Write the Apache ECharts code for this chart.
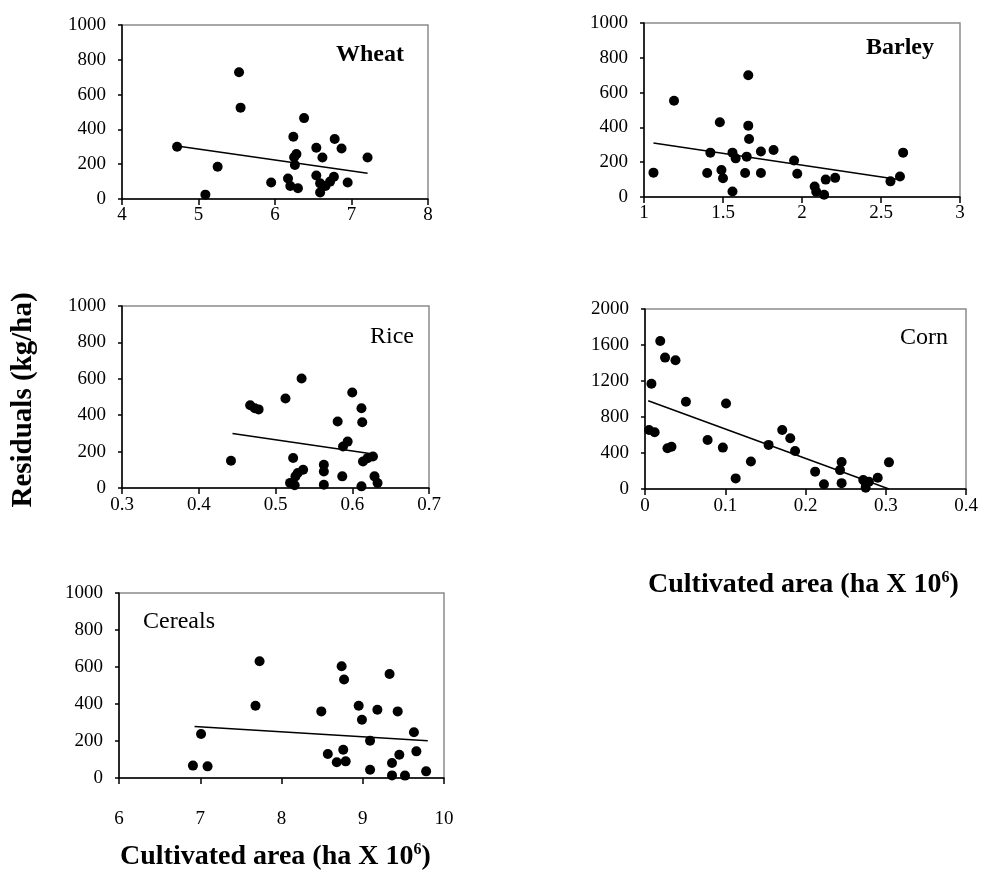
<!DOCTYPE html>
<html>
<head>
<meta charset="utf-8">
<script src="https://cdn.jsdelivr.net/npm/echarts@6/dist/echarts.min.js"></script>
<style>
  html, body { margin: 0; padding: 0; background: #fff; }
  #chart { width: 984px; height: 877px; }
</style>
</head>
<body>
<div id="chart"></div>
<script>
// Residuals (kg/ha) against cultivated area (ha x 10^6), one panel per crop.
const wheatPoints = [
  [4.72, 300], [5.09, 25], [5.25, 185], [5.53, 728], [5.55, 525], [5.95, 95],
  [6.17, 118], [6.20, 75], [6.24, 358], [6.28, 258], [6.30, 62], [6.26, 195],
  [6.25, 240], [6.38, 465], [6.54, 295], [6.62, 238], [6.54, 135], [6.59, 90],
  [6.59, 38], [6.72, 100], [6.77, 128], [6.78, 345], [6.87, 290], [6.95, 95],
  [7.21, 238], [6.66, 75]
];
const wheatTrend = [[4.72, 305], [7.21, 148]];

const barleyPoints = [
  [1.06, 140], [1.19, 553], [1.40, 138], [1.42, 255], [1.48, 430], [1.49, 155],
  [1.50, 108], [1.56, 32], [1.56, 255], [1.58, 222], [1.64, 138], [1.65, 232],
  [1.66, 700], [1.66, 410], [1.665, 333], [1.74, 138], [1.74, 262], [1.82, 270],
  [1.95, 210], [1.97, 134], [2.08, 60], [2.09, 30], [2.14, 13], [2.15, 100],
  [2.21, 110], [2.56, 90], [2.62, 118], [2.64, 255]
];
const barleyTrend = [[1.06, 310], [2.60, 102]];

const ricePoints = [
  [0.442, 150], [0.467, 455], [0.473, 438], [0.478, 432], [0.513, 492], [0.519, 28],
  [0.523, 165], [0.525, 15], [0.526, 64], [0.529, 82], [0.534, 602], [0.536, 100],
  [0.563, 128], [0.563, 91], [0.563, 18], [0.581, 365], [0.587, 64], [0.588, 228],
  [0.594, 255], [0.600, 525], [0.612, 438], [0.613, 361], [0.612, 9], [0.614, 146],
  [0.620, 164], [0.627, 173], [0.629, 64], [0.633, 27]
];
const riceTrend = [[0.444, 300], [0.625, 188]];

const cornPoints = [
  [0.005, 655], [0.008, 1170], [0.012, 630], [0.019, 1645], [0.025, 1460], [0.028, 452],
  [0.033, 470], [0.038, 1430], [0.051, 970], [0.078, 544], [0.097, 460], [0.101, 950],
  [0.113, 118], [0.132, 305], [0.154, 490], [0.171, 655], [0.181, 563], [0.187, 422],
  [0.212, 193], [0.223, 52], [0.245, 300], [0.243, 210], [0.245, 65], [0.275, 63],
  [0.275, 15], [0.279, 81], [0.290, 125], [0.304, 296], [0.272, 100]
];
const cornTrend = [[0.004, 980], [0.304, 0]];

const cerealsPoints = [
  [6.91, 67], [7.01, 238], [7.09, 63], [7.68, 391], [7.73, 631], [8.49, 360],
  [8.57, 130], [8.68, 85], [8.74, 604], [8.77, 532], [8.76, 153], [8.79, 90],
  [8.95, 391], [8.99, 315], [9.09, 202], [9.09, 45], [9.18, 369], [9.33, 562],
  [9.36, 81], [9.36, 14], [9.43, 360], [9.45, 126], [9.52, 13], [9.63, 247],
  [9.66, 144], [9.78, 36]
];
const cerealsTrend = [[6.93, 279], [9.80, 202]];

// Axis ranges: [min, max, interval]
const wheatX = [4, 8, 1];
const barleyX = [1, 3, 0.5];
const riceX = [0.3, 0.7, 0.1];
const cornX = [0, 0.4, 0.1];
const cerealsX = [6, 10, 1];
const residualY = [0, 1000, 200];
const cornY = [0, 2000, 400];

const cropNames = ['Wheat', 'Barley', 'Rice', 'Corn', 'Cereals'];
const xTitle = 'Cultivated area (ha X 10';
const yTitle = 'Residuals (kg/ha)';

const SERIF = '"Liberation Serif", "Times New Roman", serif';

const panels = [
  { name: cropNames[0], pts: wheatPoints, trend: wheatTrend, x: wheatX, y: residualY,
    grid: { left: 122, top: 25, width: 306, height: 174 }, xMargin: 7,
    label: { x: 370, y: 55, bold: true } },
  { name: cropNames[1], pts: barleyPoints, trend: barleyTrend, x: barleyX, y: residualY,
    grid: { left: 644, top: 23, width: 316, height: 174 }, xMargin: 7,
    label: { x: 900, y: 48, bold: true } },
  { name: cropNames[2], pts: ricePoints, trend: riceTrend, x: riceX, y: residualY,
    grid: { left: 122, top: 306, width: 307, height: 182 }, xMargin: 8,
    label: { x: 392, y: 337, bold: false } },
  { name: cropNames[3], pts: cornPoints, trend: cornTrend, x: cornX, y: cornY,
    grid: { left: 645, top: 309, width: 321, height: 180 }, xMargin: 8,
    label: { x: 924, y: 338, bold: false } },
  { name: cropNames[4], pts: cerealsPoints, trend: cerealsTrend, x: cerealsX, y: residualY,
    grid: { left: 119, top: 593, width: 325, height: 185 }, xMargin: 32,
    label: { x: 179, y: 622, bold: false } }
];

const axisLabelStyle = { fontFamily: SERIF, fontSize: 19, color: '#000' };
const plainNumber = v => String(Math.round(v * 1000) / 1000);

const option = {
  animation: false,
  backgroundColor: '#fff',
  grid: panels.map(p => Object.assign({
    show: true, borderColor: '#8c8c8c', borderWidth: 1.5, containLabel: false
  }, p.grid)),
  xAxis: panels.map((p, i) => ({
    gridIndex: i, type: 'value', min: p.x[0], max: p.x[1], interval: p.x[2],
    axisLine: { onZero: false, lineStyle: { color: '#000', width: 1.5 } },
    axisTick: { show: true, length: 6, lineStyle: { color: '#000', width: 1.5 } },
    axisLabel: Object.assign({ margin: p.xMargin, formatter: plainNumber }, axisLabelStyle),
    splitLine: { show: false }
  })),
  yAxis: panels.map((p, i) => ({
    gridIndex: i, type: 'value', min: p.y[0], max: p.y[1], interval: p.y[2],
    axisLine: { show: true, onZero: false, lineStyle: { color: '#000', width: 1.5 } },
    axisTick: { show: true, length: 4, lineStyle: { color: '#000', width: 1.5 } },
    axisLabel: Object.assign({ margin: 16, formatter: plainNumber }, axisLabelStyle),
    splitLine: { show: false }
  })),
  series: panels.flatMap((p, i) => [
    {
      type: 'scatter', name: p.name, xAxisIndex: i, yAxisIndex: i,
      data: p.pts, symbol: 'circle', symbolSize: 10,
      itemStyle: { color: '#000', opacity: 1 }
    },
    {
      type: 'line', name: p.name + ' trend', xAxisIndex: i, yAxisIndex: i,
      data: p.trend, showSymbol: false, symbol: 'none',
      lineStyle: { color: '#000', width: 1.5 }
    }
  ]),
  graphic: [
    ...panels.map(p => ({
      type: 'text', x: p.label.x, y: p.label.y,
      style: {
        text: p.name, fill: '#000', align: 'center', verticalAlign: 'middle',
        font: (p.label.bold ? 'bold ' : '') + '24px ' + SERIF
      }
    })),
    {
      type: 'text', x: 24, y: 400, rotation: Math.PI / 2,
      style: {
        text: yTitle, fill: '#000', align: 'center', verticalAlign: 'middle',
        font: 'bold 29px ' + SERIF
      }
    },
    ...[[648, 585], [120, 857]].map(([lx, cy]) => ({
      type: 'text', x: lx, y: cy,
      style: {
        text: '{a|' + xTitle + '}{s|6}{a|)}',
        align: 'left', verticalAlign: 'middle',
        rich: {
          a: { fontFamily: SERIF, fontWeight: 'bold', fontSize: 28, fill: '#000', color: '#000' },
          s: { fontFamily: SERIF, fontWeight: 'bold', fontSize: 16, fill: '#000', color: '#000',
               verticalAlign: 'top', padding: [0, 0, 14, 0] }
        }
      }
    }))
  ]
};

const chart = echarts.init(document.getElementById('chart'), null, { renderer: 'canvas' });
chart.setOption(option);
</script>
</body>
</html>
